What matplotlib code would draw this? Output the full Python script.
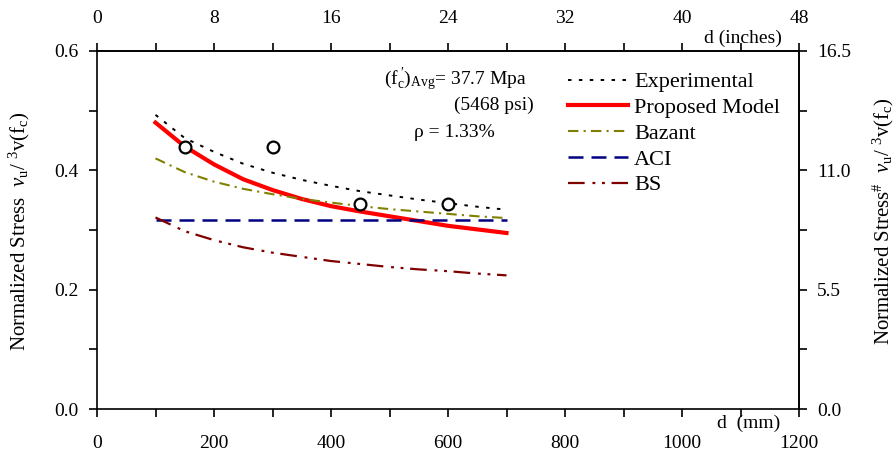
import numpy as np
import matplotlib
matplotlib.use("Agg")
import matplotlib.pyplot as plt
from matplotlib.ticker import MultipleLocator, FormatStrFormatter

plt.rcParams['font.family'] = ['Liberation Serif', 'DejaVu Serif']
plt.rcParams['mathtext.fontset'] = 'custom'
plt.rcParams['mathtext.rm'] = 'Liberation Serif'
plt.rcParams['mathtext.it'] = 'Liberation Serif:italic'
plt.rcParams['mathtext.bf'] = 'Liberation Serif:bold'

# Effective depth (mm)
depth = [100, 150, 200, 250, 300, 350, 400, 450, 500, 550, 600, 650, 700]
experimental = [0.493, 0.454, 0.431, 0.411, 0.396, 0.384, 0.374, 0.365, 0.358, 0.351, 0.345, 0.339, 0.334]
proposed = [0.480, 0.440, 0.410, 0.385, 0.367, 0.352, 0.340, 0.331, 0.323, 0.315, 0.307, 0.301, 0.295]
bazant = [0.420, 0.397, 0.381, 0.369, 0.360, 0.352, 0.346, 0.340, 0.335, 0.331, 0.327, 0.323, 0.320]
aci = [0.316] * len(depth)
bs = [0.321, 0.298, 0.283, 0.271, 0.262, 0.255, 0.248, 0.243, 0.238, 0.234, 0.231, 0.227, 0.224]

# Test results
test_depth = [150, 300, 450, 600]
test_stress = [0.439, 0.439, 0.344, 0.344]

TICK_FS = 14

fig = plt.figure(figsize=(8.96, 4.54), dpi=100)
ax = fig.add_axes([97/896, 45/454, 702/896, 358/454])

ax.plot(depth, experimental, color='black', lw=1.4, ls=(0, (1.8, 3.8)), label='Experimental')
ax.plot(depth, proposed, color='#ff0000', lw=3.0, ls='-', label='Proposed Model')
ax.plot(depth, bazant, color='#808000', lw=1.5, ls=(0, (5, 2.5, 1, 2.5)), label='Bazant')
ax.plot(depth, aci, color='#000080', lw=1.8, ls=(0, (6, 3.2)), label='ACI')
ax.plot(depth, bs, color='#800000', lw=1.6, ls=(0, (7.5, 3.5, 1.3, 3, 1.3, 3)), label='BS')
ax.plot(test_depth, test_stress, ls='none', marker='o', ms=8.5, mfc='white', mec='black', mew=1.6)

ax.set_xlim(0, 1200)
ax.set_ylim(0, 0.6)
ax.xaxis.set_major_locator(MultipleLocator(200))
ax.xaxis.set_minor_locator(MultipleLocator(100))
ax.yaxis.set_major_locator(MultipleLocator(0.2))
ax.yaxis.set_minor_locator(MultipleLocator(0.1))
ax.yaxis.set_major_formatter(FormatStrFormatter('%.1f'))

for s in ax.spines.values():
    s.set_linewidth(1.2)
ax.tick_params(which='both', direction='out', width=1.2, labelsize=TICK_FS)
ax.tick_params(which='major', length=6)
ax.tick_params(which='minor', length=6)
ax.tick_params(axis='x', which='major', pad=13)
ax.tick_params(axis='y', which='major', pad=7)

# Top axis in inches
top = ax.secondary_xaxis('top', functions=(lambda x: x / 25.0, lambda x: x * 25.0))
top.xaxis.set_major_locator(MultipleLocator(8))
top.xaxis.set_minor_locator(MultipleLocator(4))
top.tick_params(which='both', direction='out', width=1.2, labelsize=TICK_FS)
top.tick_params(which='major', length=6, pad=11)
top.tick_params(which='minor', length=6)
top.spines['top'].set_linewidth(1.2)

# Right axis for the alternative normalisation
right = ax.secondary_yaxis('right', functions=(lambda y: y * 27.5, lambda y: y / 27.5))
right.yaxis.set_major_locator(MultipleLocator(5.5))
right.yaxis.set_minor_locator(MultipleLocator(2.75))
right.yaxis.set_major_formatter(FormatStrFormatter('%.1f'))
right.tick_params(which='both', direction='out', width=1.2, labelsize=TICK_FS)
right.tick_params(which='major', length=6, pad=7)
right.tick_params(which='minor', length=6)
right.spines['right'].set_linewidth(1.2)

fig.text(19/896, 1 - 231/454,
         r'Normalized Stress  $\nu_{\rm u}$/ $^{\rm 3}$v(f$_{\rm c}$)',
         rotation=90, fontsize=15, ha='center', va='center')
fig.text(883/896, 1 - 221/454,
         r'Normalized Stress$^{\#}$  $\nu_{\rm u}$/ $^{\rm 3}$v(f$_{\rm c}$)',
         rotation=90, fontsize=15, ha='center', va='center')

ax.text(0.928, -0.039, 'd  (mm)', transform=ax.transAxes, fontsize=14, ha='center', va='center')
ax.text(0.920, 1.036, 'd (inches)', transform=ax.transAxes, fontsize=14, ha='center', va='center')

ax.text(0.511, 0.919, r'(f$_{\rm c}^{\ \prime}$)$_{\rm Avg}$= 37.7 Mpa', transform=ax.transAxes,
        fontsize=14, ha='center', va='center')
ax.text(0.566, 0.849, '(5468 psi)', transform=ax.transAxes, fontsize=14, ha='center', va='center')
ax.text(0.509, 0.771, r'ρ = 1.33%', transform=ax.transAxes, fontsize=14, ha='center', va='center')

ax.legend(loc='upper left', bbox_to_anchor=(0.671, 0.942), frameon=False, fontsize=16,
          handlelength=2.7, handletextpad=0.27, labelspacing=0.235, borderpad=0, borderaxespad=0)

fig.savefig('out.png', dpi=100)
